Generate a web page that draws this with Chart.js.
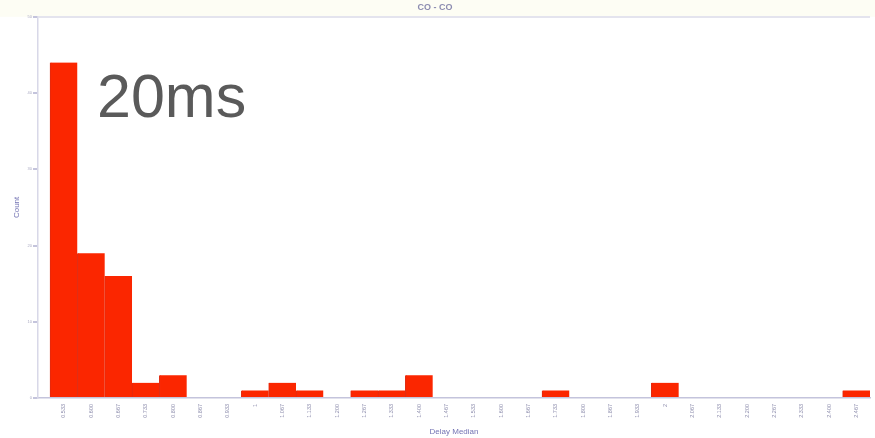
<!DOCTYPE html>
<html>
<head>
<meta charset="utf-8">
<script src="https://cdn.jsdelivr.net/npm/chart.js@4/dist/chart.umd.min.js"></script>
<style>
  html, body { margin: 0; padding: 0; background: #ffffff; }
  #wrap { width: 875px; height: 438px; position: relative; }
</style>
</head>
<body>
<div id="wrap"><canvas id="myChart" width="875" height="438"></canvas></div>
<script>
// histogram data
var binLabels = ['0.533','0.600','0.667','0.733','0.800','0.867','0.933','1',
                 '1.067','1.133','1.200','1.267','1.333','1.400','1.467','1.533',
                 '1.600','1.667','1.733','1.800','1.867','1.933','2','2.067',
                 '2.133','2.200','2.267','2.333','2.400','2.467'];
var counts = [44,19,16,2,3,0,0,1,2,1,0,1,1,3,0,0,0,0,1,0,0,0,2,0,0,0,0,0,0,1];
var yTicks = [0,10,20,30,40,50];
var chartTitle = 'CO - CO';
var bigNote = '20ms';

var points = counts.map(function(c, i){ return {x: i, y: c}; });

// faint tinted strip above the plot, and the big note text
var noteText = {
  id: 'noteText',
  beforeDraw: function(chart){
    var ctx = chart.ctx;
    ctx.save();
    ctx.fillStyle = '#fdfdf4';
    ctx.fillRect(0, 0, chart.width, chart.chartArea.top);
    ctx.restore();
  },
  afterDraw: function(chart){
    var ctx = chart.ctx;
    ctx.save();
    ctx.font = '61px "Liberation Sans", Arial, sans-serif';
    ctx.fillStyle = '#5a5a5a';
    ctx.textBaseline = 'alphabetic';
    ctx.fillText(bigNote, 97, 117);
    ctx.restore();
  }
};

var ctx = document.getElementById('myChart').getContext('2d');
var myChart = new Chart(ctx, {
  type: 'bar',
  data: {
    datasets: [{
      label: 'Count',
      data: points,
      backgroundColor: '#fb2600',
      borderColor: '#e02a10',
      borderWidth: {left: 1, right: 0, top: 0, bottom: 0},
      categoryPercentage: 1,
      barPercentage: 1
    }]
  },
  options: {
    responsive: false,
    animation: false,
    layout: {padding: {left: 0, right: 5, top: 0, bottom: 0}},
    plugins: {
      legend: {display: false},
      tooltip: {enabled: false},
      title: {
        display: true,
        text: chartTitle,
        color: '#8c8cb0',
        font: {family: 'Liberation Sans', size: 9},
        padding: {top: 2, bottom: 4}
      }
    },
    scales: {
      x: {
        type: 'linear',
        min: -0.94,
        max: 29.5,
        offset: false,
        afterBuildTicks: function(s){
          s.ticks = binLabels.map(function(_, i){ return {value: i}; });
        },
        afterFit: function(s){ s.height = 40; },
        grid: {display: false, drawTicks: false},
        border: {display: true, color: '#c4c4dc', width: 1.5},
        ticks: {
          autoSkip: false,
          minRotation: 90,
          maxRotation: 90,
          padding: 6,
          color: '#8c8cac',
          font: {family: 'Liberation Sans', size: 5.5},
          callback: function(v){ return binLabels[v]; }
        },
        title: {
          display: true,
          text: 'Delay Median',
          color: '#7474b4',
          font: {family: 'Liberation Sans', size: 8},
          padding: {top: 0, bottom: 1}
        }
      },
      y: {
        min: 0,
        max: 50,
        afterBuildTicks: function(s){
          s.ticks = yTicks.map(function(v){ return {value: v}; });
        },
        afterFit: function(s){ s.width = 38; },
        grid: {
          drawTicks: true,
          tickLength: 5,
          tickColor: '#c4c4dc',
          lineWidth: 2,
          color: function(c){ return c.tick && c.tick.value === 50 ? '#e4e4ee' : 'rgba(0,0,0,0)'; }
        },
        border: {display: true, color: '#d8d8e8', width: 1.5},
        ticks: {
          padding: 1,
          color: '#a8a8c0',
          font: {family: 'Liberation Sans', size: 4}
        },
        title: {
          display: true,
          text: 'Count',
          color: '#7474b4',
          font: {family: 'Liberation Sans', size: 8},
          padding: {top: 12, bottom: 0}
        }
      }
    }
  },
  plugins: [noteText]
});
</script>
</body>
</html>
